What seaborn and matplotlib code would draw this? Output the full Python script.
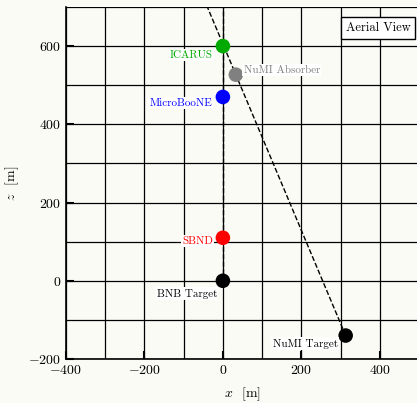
import numpy as np
import pandas as pd
import matplotlib
matplotlib.use("Agg")
import matplotlib.pyplot as plt
import seaborn as sns
from matplotlib.ticker import MultipleLocator

# --- podaci (procenjeno sa slike) ---
names = ["BNB Target", "SBND", "MicroBooNE", "ICARUS", "NuMI Absorber", "NuMI Target"]
x_pos = [0, 0, 0, 0, 33, 313]
z_pos = [0, 110, 470, 600, 527, -140]
colors = ["black", "red", "blue", "#00aa00", "gray", "black"]
label_x = [-15, -25, -28, -25, 53, 293]
label_z = [-33, 102, 455, 577, 539, -161]
label_ha = ["right", "right", "right", "right", "left", "right"]

bg = "#fbfbf6"

sns.set_style("white")
plt.rcParams["font.family"] = ["cmr10"]
plt.rcParams["mathtext.fontset"] = "cm"
plt.rcParams["axes.formatter.use_mathtext"] = True
plt.rcParams["text.color"] = "black"
plt.rcParams["axes.labelcolor"] = "black"
plt.rcParams["xtick.color"] = "black"
plt.rcParams["ytick.color"] = "black"

fig = plt.figure(figsize=(4.17, 4.03), dpi=100, facecolor=bg)
ax = fig.add_axes([66 / 417, 44 / 403, 353 / 417, 352 / 403])
ax.set_facecolor(bg)

df = pd.DataFrame({"x": x_pos, "z": z_pos, "name": names})

# linije snopa
ax.plot([x_pos[0], x_pos[0]], [z_pos[0], 760], ls="--", color="black", lw=1, zorder=3)
slope = (x_pos[4] - x_pos[5]) / (z_pos[4] - z_pos[5])
ax.plot([x_pos[5], x_pos[5] + slope * (760 - z_pos[5])], [z_pos[5], 760],
        ls="--", color="black", lw=1, zorder=3)

sns.scatterplot(data=df, x="x", y="z", hue="name", palette=dict(zip(names, colors)),
                s=110, edgecolor="none", legend=False, zorder=5, ax=ax)

for n, lx, lz, ha, c in zip(names, label_x, label_z, label_ha, colors):
    ax.text(lx, lz, n, ha=ha, va="center", fontsize=8, color=c, zorder=6,
            bbox=dict(facecolor="white", edgecolor="none", pad=1))

ax.text(0.884, 0.94, "Aerial View", transform=ax.transAxes, ha="center", va="center",
        fontsize=9, zorder=7,
        bbox=dict(facecolor="white", edgecolor="black", boxstyle="square,pad=0.4"))

ax.set_xlim(-400, 500)
ax.set_ylim(-200, 700)
ax.xaxis.set_major_locator(MultipleLocator(200))
ax.yaxis.set_major_locator(MultipleLocator(200))
ax.xaxis.set_minor_locator(MultipleLocator(100))
ax.yaxis.set_minor_locator(MultipleLocator(100))
ax.grid(True, which="both", color="black", lw=0.9)
ax.set_axisbelow(True)
ax.tick_params(which="major", direction="in", length=6, width=1.5, labelsize=10,
               left=True, bottom=True, colors="black")
ax.tick_params(which="minor", length=0)

for s in ["top", "right"]:
    ax.spines[s].set_visible(False)
for s in ["left", "bottom"]:
    ax.spines[s].set_color("black")
    ax.spines[s].set_linewidth(1.2)

ax.set_xlabel(r"$x$  [m]", fontsize=10, labelpad=6, color="black")
ax.set_ylabel(r"$z$  [m]", fontsize=10, labelpad=5, color="black")

fig.savefig("out.png", dpi=100, facecolor=bg)
